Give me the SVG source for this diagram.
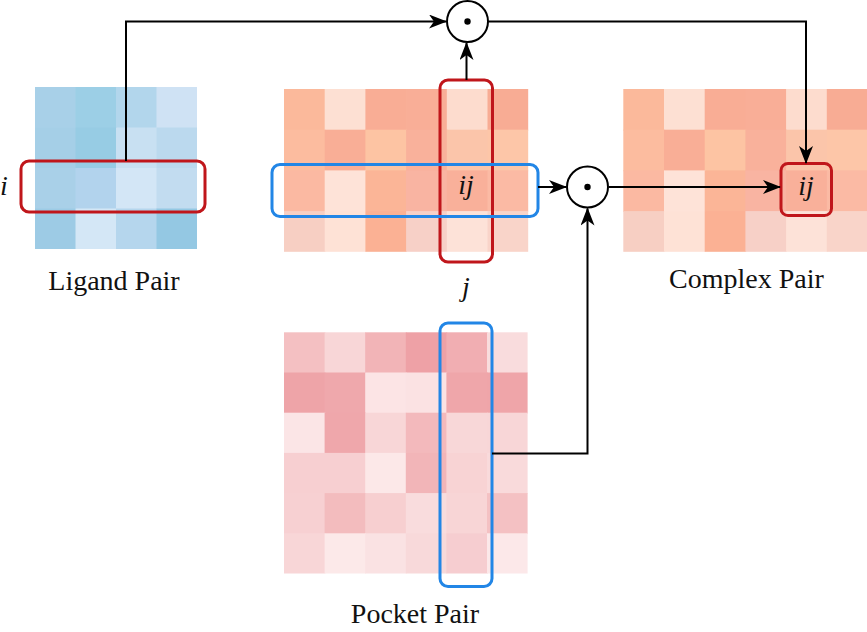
<svg xmlns="http://www.w3.org/2000/svg" xmlns:xlink="http://www.w3.org/1999/xlink" width="867" height="632" viewBox="0 0 867 632">
<style>
.lbl{font-family:"Liberation Serif","Times New Roman",serif;font-size:28px;fill:#111;}
.math{font-family:"Liberation Serif","Times New Roman",serif;font-style:italic;font-size:28px;fill:#111;}
.red{fill:none;stroke:#c0161b;stroke-width:3;}
.blue{fill:none;stroke:#2286e6;stroke-width:3;}
.wire{fill:none;stroke:#000;stroke-width:2;}
.op{fill:#fff;stroke:#000;stroke-width:2;}
</style>
<defs>
<marker id="arr" viewBox="0 0 18 14" refX="17" refY="7" markerWidth="18" markerHeight="14" markerUnits="userSpaceOnUse" orient="auto">
<path d="M0,0 L18,7 L0,14 L5,7 z" fill="#000"/>
</marker>
<g id="salmon">
<rect x="0" y="0" width="1.02" height="1.02" fill="#fbb99b"/><rect x="1" y="0" width="1.02" height="1.02" fill="#fde0d3"/><rect x="2" y="0" width="1.02" height="1.02" fill="#f9ad95"/><rect x="3" y="0" width="1.02" height="1.02" fill="#f9ae97"/><rect x="4" y="0" width="1.02" height="1.02" fill="#fddcce"/><rect x="5" y="0" width="1" height="1.02" fill="#f8ac94"/>
<rect x="0" y="1" width="1.02" height="1.02" fill="#fcbc9f"/><rect x="1" y="1" width="1.02" height="1.02" fill="#f9ae96"/><rect x="2" y="1" width="1.02" height="1.02" fill="#fdc4a3"/><rect x="3" y="1" width="1.02" height="1.02" fill="#f9b19b"/><rect x="4" y="1" width="1.02" height="1.02" fill="#fbc5aa"/><rect x="5" y="1" width="1" height="1.02" fill="#fdc6a8"/>
<rect x="0" y="2" width="1.02" height="1.02" fill="#fbb9a2"/><rect x="1" y="2" width="1.02" height="1.02" fill="#fee3d8"/><rect x="2" y="2" width="1.02" height="1.02" fill="#fbb597"/><rect x="3" y="2" width="1.02" height="1.02" fill="#f9b4a2"/><rect x="4" y="2" width="1.02" height="1.02" fill="#f9b09a"/><rect x="5" y="2" width="1" height="1.02" fill="#fbbaa4"/>
<rect x="0" y="3" width="1.02" height="1" fill="#f7cfc3"/><rect x="1" y="3" width="1.02" height="1" fill="#fee2d6"/><rect x="2" y="3" width="1.02" height="1" fill="#fbb194"/><rect x="3" y="3" width="1.02" height="1" fill="#f7d0c7"/><rect x="4" y="3" width="1.02" height="1" fill="#fde2d8"/><rect x="5" y="3" width="1" height="1" fill="#f9d4c9"/>
</g>
</defs>
<rect width="867" height="632" fill="#fff"/>

<g id="ligand-pair">
<g transform="translate(35,87) scale(40.5)">
<rect x="0" y="0" width="1.02" height="1.02" fill="#a8d0e8"/><rect x="1" y="0" width="1.02" height="1.02" fill="#9ccfe6"/><rect x="2" y="0" width="1.02" height="1.02" fill="#b2d6ec"/><rect x="3" y="0" width="1" height="1.02" fill="#cfe2f4"/>
<rect x="0" y="1" width="1.02" height="1.02" fill="#a5cfe7"/><rect x="1" y="1" width="1.02" height="1.02" fill="#97cce4"/><rect x="2" y="1" width="1.02" height="1.02" fill="#c8e0f2"/><rect x="3" y="1" width="1" height="1.02" fill="#bbd9ee"/>
<rect x="0" y="2" width="1.02" height="1.02" fill="#a9d0e8"/><rect x="1" y="2" width="1.02" height="1.02" fill="#b2d3ed"/><rect x="2" y="2" width="1.02" height="1.02" fill="#d3e6f6"/><rect x="3" y="2" width="1" height="1.02" fill="#c2dcf0"/>
<rect x="0" y="3" width="1.02" height="1" fill="#9dcbe5"/><rect x="1" y="3" width="1.02" height="1" fill="#d4e7f6"/><rect x="2" y="3" width="1.02" height="1" fill="#b5d6ed"/><rect x="3" y="3" width="1" height="1" fill="#94c8e3"/>
</g>
<rect class="red" x="21" y="161" width="184" height="51" rx="8"/>
<text class="math" x="0" y="195">i</text>
<text class="lbl" x="114" y="290" text-anchor="middle">Ligand Pair</text>
</g>

<g id="middle-pair">
<use xlink:href="#salmon" href="#salmon" transform="translate(284,89) scale(40.7)"/>
<rect class="red" x="440" y="80" width="52.5" height="182" rx="8"/>
<rect class="blue" x="272" y="164.5" width="266" height="52" rx="8"/>
<text class="math" x="466" y="194" text-anchor="middle">ij</text>
<text class="math" x="466" y="296" text-anchor="middle">j</text>
</g>

<g id="complex-pair">
<use xlink:href="#salmon" href="#salmon" transform="translate(623.3,89) scale(40.7)"/>
<rect class="red" x="781" y="163.5" width="50.5" height="52" rx="7"/>
<text class="math" x="806" y="195" text-anchor="middle">ij</text>
<text class="lbl" x="746.5" y="288" text-anchor="middle">Complex Pair</text>
</g>

<g id="pocket-pair">
<g transform="translate(284,332.3) scale(40.6,40.2)">
<rect x="0" y="0" width="1.02" height="1.02" fill="#f4c0c2"/><rect x="1" y="0" width="1.02" height="1.02" fill="#f8d6d7"/><rect x="2" y="0" width="1.02" height="1.02" fill="#f2b4b7"/><rect x="3" y="0" width="1.02" height="1.02" fill="#eea1a6"/><rect x="4" y="0" width="1.02" height="1.02" fill="#f1aeb2"/><rect x="5" y="0" width="1" height="1.02" fill="#f9dcdd"/>
<rect x="0" y="1" width="1.02" height="1.02" fill="#eea4a8"/><rect x="1" y="1" width="1.02" height="1.02" fill="#efa8ac"/><rect x="2" y="1" width="1.02" height="1.02" fill="#fce4e5"/><rect x="3" y="1" width="1.02" height="1.02" fill="#fbe2e3"/><rect x="4" y="1" width="1.02" height="1.02" fill="#efa6aa"/><rect x="5" y="1" width="1" height="1.02" fill="#efa5a9"/>
<rect x="0" y="2" width="1.02" height="1.02" fill="#fbe5e6"/><rect x="1" y="2" width="1.02" height="1.02" fill="#efa7ab"/><rect x="2" y="2" width="1.02" height="1.02" fill="#f8d6d7"/><rect x="3" y="2" width="1.02" height="1.02" fill="#f3b9bc"/><rect x="4" y="2" width="1.02" height="1.02" fill="#f8d7d8"/><rect x="5" y="2" width="1" height="1.02" fill="#f8d6d7"/>
<rect x="0" y="3" width="1.02" height="1.02" fill="#f7cfd1"/><rect x="1" y="3" width="1.02" height="1.02" fill="#f7cfd1"/><rect x="2" y="3" width="1.02" height="1.02" fill="#fce8e8"/><rect x="3" y="3" width="1.02" height="1.02" fill="#f2b5b8"/><rect x="4" y="3" width="1.02" height="1.02" fill="#f8d3d4"/><rect x="5" y="3" width="1" height="1.02" fill="#f9dadb"/>
<rect x="0" y="4" width="1.02" height="1.02" fill="#f7d0d2"/><rect x="1" y="4" width="1.02" height="1.02" fill="#f3bcbe"/><rect x="2" y="4" width="1.02" height="1.02" fill="#f7cfd0"/><rect x="3" y="4" width="1.02" height="1.02" fill="#f9dcdd"/><rect x="4" y="4" width="1.02" height="1.02" fill="#f8d5d6"/><rect x="5" y="4" width="1" height="1.02" fill="#f4c1c3"/>
<rect x="0" y="5" width="1.02" height="1" fill="#f8d6d7"/><rect x="1" y="5" width="1.02" height="1" fill="#fce9e9"/><rect x="2" y="5" width="1.02" height="1" fill="#fae2e3"/><rect x="3" y="5" width="1.02" height="1" fill="#f8d9da"/><rect x="4" y="5" width="1.02" height="1" fill="#f6cdd0"/><rect x="5" y="5" width="1" height="1" fill="#fce8e9"/>
</g>
<rect class="blue" x="440" y="323" width="52" height="263.5" rx="8"/>
<text class="lbl" x="415" y="623" text-anchor="middle">Pocket Pair</text>
</g>

<g id="connectors">
<path class="wire" d="M126,161 V21.5 H446" marker-end="url(#arr)"/>
<path class="wire" d="M466.5,80 V43" marker-end="url(#arr)"/>
<path class="wire" d="M488.5,21.5 H806 V163" marker-end="url(#arr)"/>
<path class="wire" d="M538,187 H566" marker-end="url(#arr)"/>
<path class="wire" d="M609,187 H780" marker-end="url(#arr)"/>
<path class="wire" d="M492,453.5 H587.5 V208.5" marker-end="url(#arr)"/>
</g>

<g id="op-top">
<circle class="op" cx="467.5" cy="21.5" r="20.5"/>
<circle cx="467.5" cy="21.5" r="3.2" fill="#000"/>
</g>
<g id="op-mid">
<circle class="op" cx="587.5" cy="187" r="20.5"/>
<circle cx="587.5" cy="187" r="3.2" fill="#000"/>
</g>
</svg>
